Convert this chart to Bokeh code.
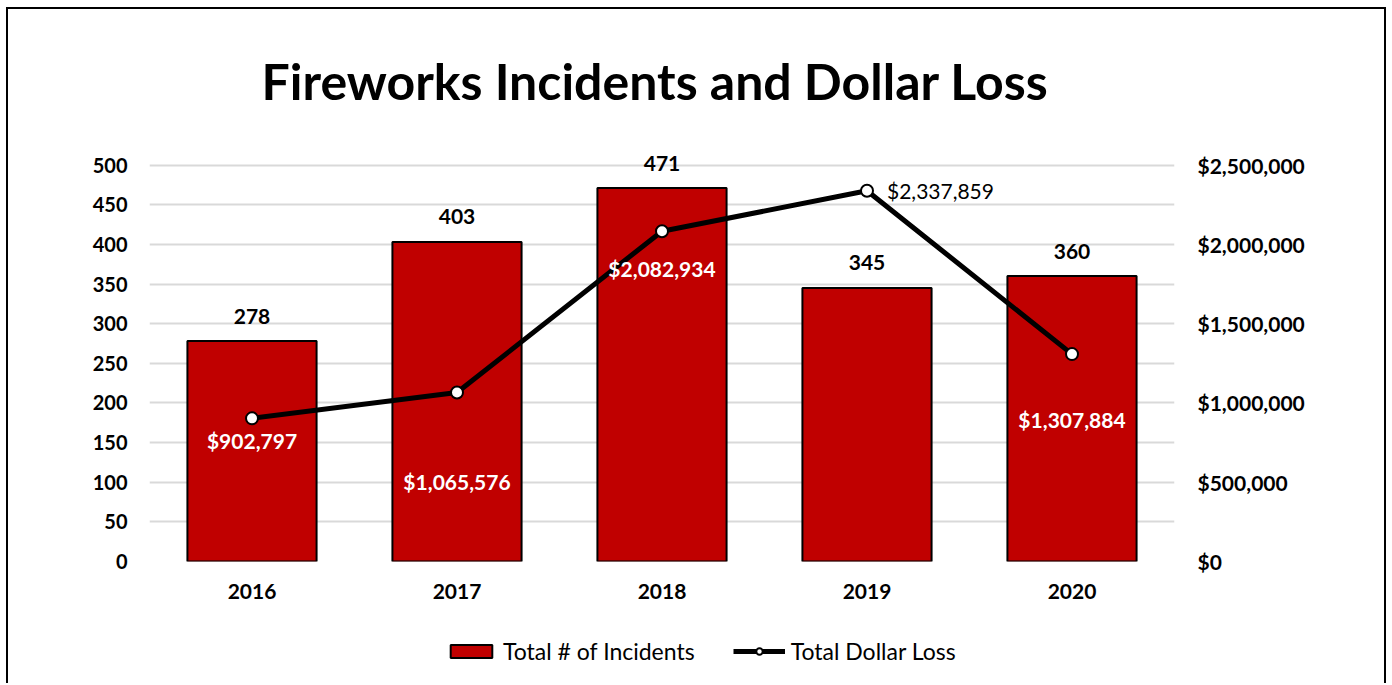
from bokeh.plotting import figure
from bokeh.layouts import column
from bokeh.models import (ColumnDataSource, Range1d, LinearAxis, FixedTicker,
                          NumeralTickFormatter, Legend, LegendItem, FactorRange)
from bokeh.core.properties import value
from bokeh.embed import file_html
from bokeh.resources import INLINE

# ---- data ----
years = ["2016", "2017", "2018", "2019", "2020"]
incidents = [278, 403, 471, 345, 360]
dollar_loss = [902797, 1065576, 2082934, 2337859, 1307884]
left_ticks = [0, 50, 100, 150, 200, 250, 300, 350, 400, 450, 500]
right_ticks = [0, 500000, 1000000, 1500000, 2000000, 2500000]
series_names = ["Total # of Incidents", "Total Dollar Loss"]
chart_title = "Fireworks Incidents and Dollar Loss"

# ---- label styling (pixel offsets / colours) ----
loss_label_dx = [0, 0, 0, 20, 0]
loss_label_dy = [22, 89, 37, 0, 65]
loss_label_color = ["white", "white", "white", "black", "white"]
loss_label_align = ["center", "center", "center", "left", "center"]
loss_label_base = ["alphabetic", "alphabetic", "alphabetic", "middle", "alphabetic"]
loss_label_style = ["bold", "bold", "bold", "normal", "bold"]

FONT = "Lato"
RED = "#C00000"
W = 1380
H1, H2 = 611, 65
BORDER = "2px solid #000"

src = ColumnDataSource(dict(
    year=years, inc=incidents, loss=dollar_loss,
    inc_txt=[str(v) for v in incidents],
    loss_txt=["${:,}".format(v) for v in dollar_loss],
    dx=loss_label_dx, dy=loss_label_dy, col=loss_label_color,
    al=loss_label_align, bl=loss_label_base, st=loss_label_style,
))

p = figure(width=W, height=H1, x_range=FactorRange(*years),
           y_range=Range1d(0, 560), output_backend="svg", toolbar_location=None,
           min_border_left=141, min_border_right=214,
           min_border_top=108, min_border_bottom=59)
p.extra_y_ranges = {"loss": Range1d(0, 2800000)}
p.outline_line_color = None
p.background_fill_color = "white"
p.border_fill_color = "white"
p.styles = {"margin-left": "6px", "margin-top": "7px",
            "border-left": BORDER, "border-top": BORDER, "border-right": BORDER}

# title
p.title.text = chart_title
p.title.text_font = FONT
p.title.text_font_size = "50px"
p.title.text_font_style = "bold"
p.title.text_color = "black"
p.title.align = "left"
p.title.offset = 112
p.title.standoff = 14

# bars
bars = p.vbar(x="year", top="inc", width=0.63, source=src, fill_color=RED,
              line_color="black", line_width=2)
p.text(x="year", y="inc", text="inc_txt", source=src, text_align="center",
       text_baseline="alphabetic", y_offset=-25, text_font=value(FONT),
       text_font_size="21px", text_font_style="bold", text_color="black")

# line
ln = p.line(x="year", y="loss", source=src, y_range_name="loss",
            line_color="black", line_width=5)
sc = p.scatter(x="year", y="loss", source=src, y_range_name="loss", size=12,
               fill_color="white", line_color="black", line_width=2)
p.text(x="year", y="loss", text="loss_txt", source=src, y_range_name="loss",
       x_offset="dx", y_offset="dy", text_color="col", text_align="al",
       text_baseline="bl", text_font_style="st", text_font=value(FONT),
       text_font_size="21px")

# axes
p.yaxis.ticker = FixedTicker(ticks=left_ticks)
ax_r = LinearAxis(y_range_name="loss", ticker=FixedTicker(ticks=right_ticks),
                  formatter=NumeralTickFormatter(format="$0,0"))
p.add_layout(ax_r, "right")

for ax in [p.yaxis[0], ax_r, p.xaxis[0]]:
    ax.axis_line_color = None
    ax.major_tick_line_color = None
    ax.minor_tick_line_color = None
    ax.major_tick_out = 0
    ax.major_tick_in = 0
    ax.minor_tick_out = 0
    ax.major_label_text_font = FONT
    ax.major_label_text_font_size = "20px"
    ax.major_label_text_font_style = "bold"
    ax.major_label_text_color = "black"
p.yaxis[0].major_label_standoff = 22
ax_r.major_label_standoff = 23
ax_r.major_label_text_font_size = "21px"
p.xaxis[0].major_label_standoff = 22
p.xaxis[0].major_label_text_font_size = "21px"

p.xgrid.grid_line_color = None
p.ygrid.grid_line_color = "#D9D9D9"
p.ygrid.grid_line_width = 2

# legend strip (separate figure below the chart so the legend is not clipped);
# its renderers reuse the same data but lie below the strip's visible y range
q = figure(width=W, height=H2, x_range=p.x_range, y_range=Range1d(5e6, 6e6),
           x_axis_type=None, y_axis_type=None, min_border=0,
           output_backend="svg", toolbar_location=None)
q.outline_line_color = None
q.border_fill_color = "white"
q.styles = {"margin-left": "6px", "border-left": BORDER, "border-right": BORDER}
lg_bar = q.vbar(x="year", top="inc", width=0, source=src, fill_color=RED,
                line_color="black", line_width=2)
lg_ln = q.line(x="year", y="loss", source=src, line_color="black", line_width=5)
lg_sc = q.scatter(x="year", y="loss", source=src, size=12, fill_color="white",
                  line_color="black", line_width=2)
legend = Legend(items=[LegendItem(label=series_names[0], renderers=[lg_bar]),
                       LegendItem(label=series_names[1], renderers=[lg_ln, lg_sc])],
                orientation="horizontal", location=(296, 18),
                label_text_font=FONT, label_text_font_size="23px",
                label_text_color="black", glyph_width=52, glyph_height=16,
                spacing=38, label_standoff=6, border_line_color=None,
                background_fill_alpha=0, margin=0, padding=4)
q.add_layout(legend)

layout = column(p, q, spacing=0)
open("out.html", "w").write(file_html(layout, INLINE))
